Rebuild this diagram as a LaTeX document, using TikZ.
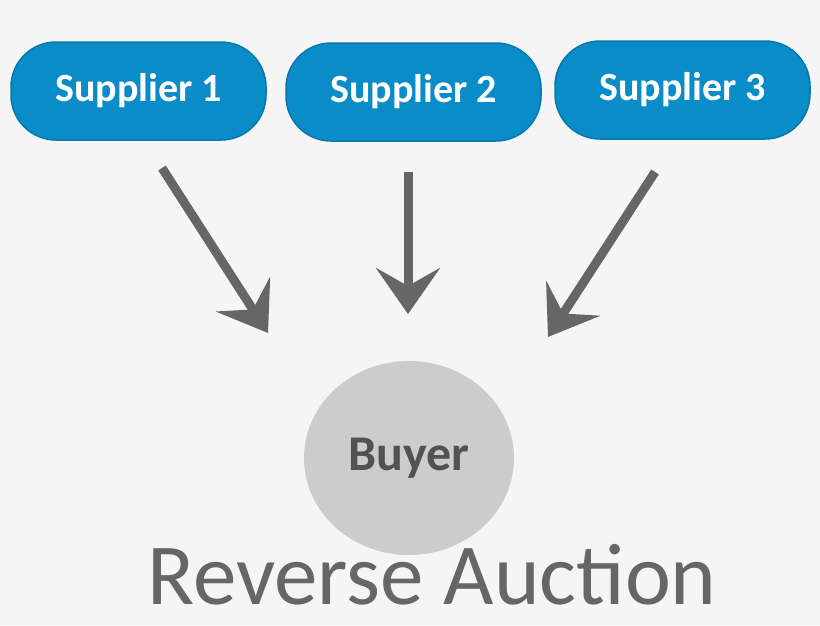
\documentclass[tikz,border=0pt]{standalone}
\usepackage{fontspec}
\setmainfont{Carlito}
\usetikzlibrary{arrows.meta,shapes.geometric}
\definecolor{bg}{HTML}{F5F5F5}
\definecolor{sup}{HTML}{0A8CC8}
\definecolor{supb}{HTML}{0877AE}
\definecolor{arr}{HTML}{666666}
\definecolor{buy}{HTML}{CCCCCC}
\begin{document}
\begin{tikzpicture}[x=1pt,y=-1pt,
  supplier/.style={draw=supb,line width=1.5pt,fill=sup,rounded corners=45pt,minimum width=255pt,minimum height=98pt,text=white,font=\fontsize{40}{46}\selectfont\bfseries},
  flow/.style={draw=arr,line width=9pt,-{Stealth[length=46pt,width=64pt,inset=18pt]}}]
\fill[bg] (0,0) rectangle (820,625);
\useasboundingbox (0,0) rectangle (820,625);
\node[supplier] (s1) at (138.5,91) {Supplier 1};
\node[supplier] (s2) at (413.5,92) {Supplier 2};
\node[supplier] (s3) at (682.5,90) {Supplier 3};
\coordinate (a1) at (162,168); \coordinate (b1) at (268,333);
\coordinate (a2) at (408,172); \coordinate (b2) at (408,314);
\coordinate (a3) at (655,172); \coordinate (b3) at (548,337);
\draw[flow] (a1) -- (b1);
\draw[flow] (a2) -- (b2);
\draw[flow] (a3) -- (b3);
\node[ellipse,fill=buy,minimum width=210pt,minimum height=194pt,inner sep=0pt,text=arr!80!black,font=\fontsize{50}{56}\selectfont\bfseries] (buyer) at (409,458) {Buyer};
\node[text=arr,font=\fontsize{87}{96}\selectfont,anchor=base,inner sep=0pt,text depth=0pt] (title) at (432,604) {Reverse Auction};
\end{tikzpicture}
\end{document}
